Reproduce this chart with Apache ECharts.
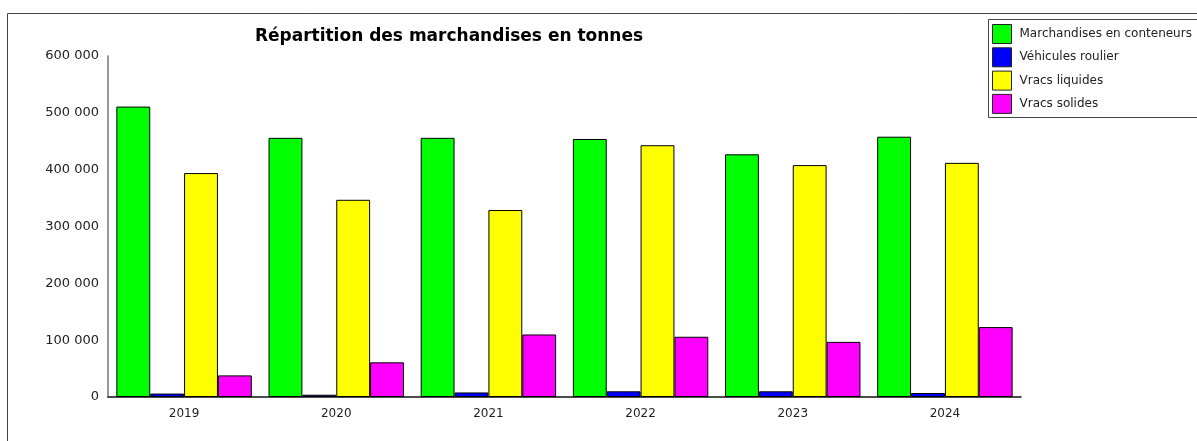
<!DOCTYPE html>
<html>
<head>
<meta charset="utf-8">
<script src="https://cdn.jsdelivr.net/npm/echarts@6/dist/echarts.min.js"></script>
<style>
html,body{margin:0;padding:0;background:#fff;}
#chart{width:1197px;height:441px;}
</style>
</head>
<body>
<div id="chart"></div>
<script>
const categories = ['2019', '2020', '2021', '2022', '2023', '2024'];
const conteneurs = [511000, 456000, 456000, 454000, 427000, 458000];
const roulier = [6000, 4000, 8000, 10000, 10000, 7000];
const liquides = [394000, 347000, 329000, 443000, 408000, 412000];
const solides = [38000, 61000, 110000, 106000, 97000, 123000];
const seriesNames = ['Marchandises en conteneurs', 'Véhicules roulier', 'Vracs liquides', 'Vracs solides'];
const seriesColors = ['#00ff00', '#0000ff', '#ffff00', '#ff00ff'];
const titleText = 'Répartition des marchandises en tonnes';

const chart = echarts.init(document.getElementById('chart'), null, {renderer: 'canvas'});
const values = [conteneurs, roulier, liquides, solides];
const font = 'DejaVu Sans';

chart.setOption({
  animation: false,
  backgroundColor: '#ffffff',
  title: {
    text: titleText,
    left: 444,
    textAlign: 'center',
    top: 23,
    textStyle: {fontFamily: font, fontSize: 17, fontWeight: 'bold', color: '#000'}
  },
  graphic: [
    {type: 'rect', shape: {x: 7.5, y: 13.5, width: 1220, height: 460}, style: {fill: null, stroke: '#444', lineWidth: 1}, silent: true, z: -1},
    {type: 'rect', shape: {x: 988.5, y: 19.5, width: 230, height: 98}, style: {fill: '#fff', stroke: '#444', lineWidth: 1}, silent: true, z: 0}
  ],
  legend: {
    orient: 'vertical',
    left: 992,
    top: 24,
    padding: 0,
    itemWidth: 19,
    itemHeight: 19,
    itemGap: 3.3,
    icon: 'rect',
    z: 5,
    itemStyle: {borderWidth: 1, borderColor: '#222'},
    textStyle: {fontFamily: font, fontSize: 12, color: '#222', padding: [0, 0, 0, 3]},
    data: seriesNames
  },
  grid: {left: 108, right: 176, top: 56, bottom: 44, containLabel: false},
  xAxis: {
    type: 'category',
    data: categories,
    axisLine: {lineStyle: {color: '#111', width: 1.5}},
    axisTick: {show: false},
    axisLabel: {fontFamily: font, fontSize: 12, color: '#222', margin: 11}
  },
  yAxis: {
    type: 'value',
    min: 0,
    max: 600000,
    interval: 100000,
    splitLine: {show: false},
    axisLine: {show: true, lineStyle: {color: '#777', width: 1.5}},
    axisTick: {show: false},
    axisLabel: {
      fontFamily: font, fontSize: 13, color: '#222', margin: 9,
      formatter: v => String(v).replace(/\B(?=(\d{3})+(?!\d))/g, ' ')
    }
  },
  series: seriesNames.map((name, i) => ({
    name: name,
    type: 'bar',
    data: values[i],
    barGap: '0%',
    barCategoryGap: '11%',
    itemStyle: {color: seriesColors[i], borderColor: '#000', borderWidth: 1}
  }))
});
</script>
</body>
</html>
